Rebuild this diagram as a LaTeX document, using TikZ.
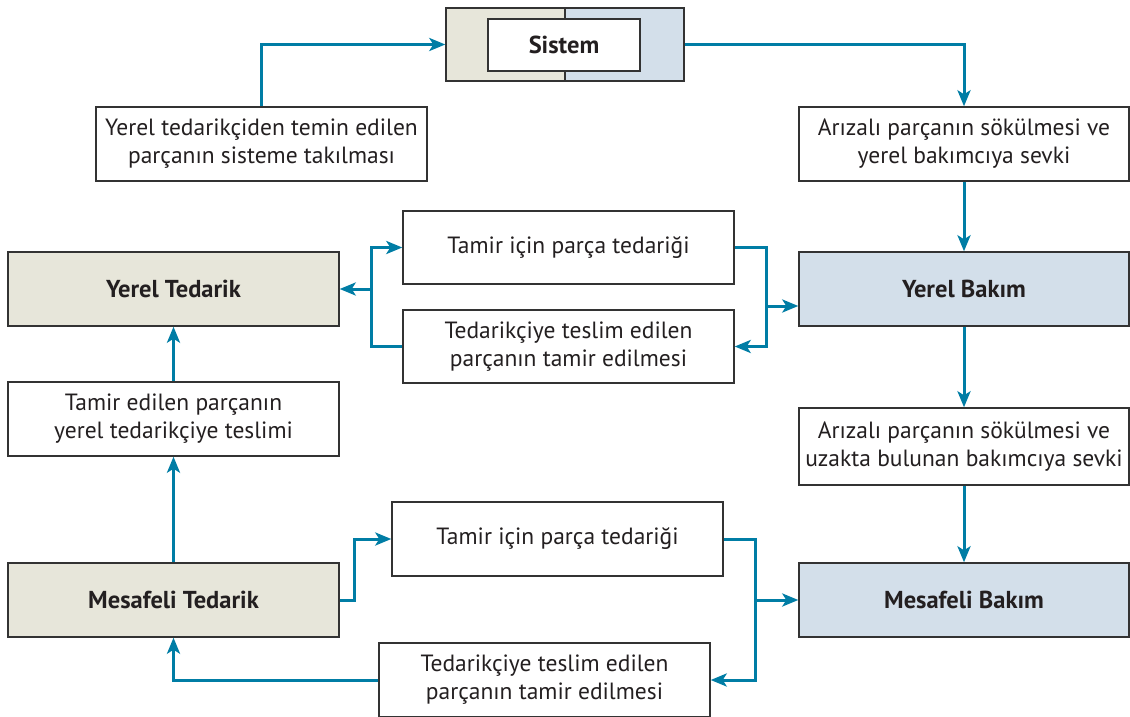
\documentclass[tikz,border=0pt]{standalone}
\usepackage{fontspec}
\setmainfont{PT Sans}
\usetikzlibrary{arrows.meta}
\definecolor{flow}{RGB}{0,125,165}
\definecolor{supply}{RGB}{231,230,218}
\definecolor{maint}{RGB}{211,223,234}
\definecolor{edge}{RGB}{51,51,51}
\definecolor{ink}{RGB}{35,31,32}
\begin{document}
\begin{tikzpicture}[x=1pt,y=-1pt,
  box/.style={draw=edge,line width=1.4pt,fill=white,minimum width=331pt,
    minimum height=74pt,inner sep=0pt,align=center,text=ink,
    font=\fontsize{23.5}{28}\selectfont},
  boldtext/.style={font=\fontsize{24.5}{28}\selectfont\bfseries},
  supplybox/.style={box,fill=supply,boldtext},
  maintbox/.style={box,fill=maint,boldtext},
  flowline/.style={draw=flow,line width=3pt},
  arr/.style={flowline,-{Stealth[length=16pt,width=13pt,inset=4pt]}}]
\useasboundingbox (0,0) rectangle (1130,717);

% system block split into supply and maintenance halves
\node[draw=edge,line width=1.4pt,minimum width=238pt,minimum height=73pt,inner sep=0pt,
  path picture={
    \fill[supply] (path picture bounding box.north west) rectangle (path picture bounding box.south);
    \fill[maint] (path picture bounding box.north) rectangle (path picture bounding box.south east);
    \draw[edge,line width=1.4pt] (path picture bounding box.north) -- (path picture bounding box.south);
  }] (sys) at (565,44.5) {};
\node[box,minimum width=152pt,minimum height=52pt,boldtext] (sysin) at (564,45) {Sistem};

% process boxes
\node[box] (A) at (261.5,144) {Yerel tedarikçiden temin edilen\\parçanın sisteme takılması};
\node[box,minimum width=330pt] (B) at (964,144) {Arızalı parçanın sökülmesi ve\\yerel bakımcıya sevki};
\node[supplybox] (YT) at (173.5,289) {Yerel Tedarik};
\node[box,minimum height=73pt] (T1) at (568.5,247.5) {Tamir için parça tedariği};
\node[box,minimum height=73pt] (D1) at (568.5,346.5) {Tedarikçiye teslim edilen\\parçanın tamir edilmesi};
\node[maintbox,minimum width=330pt] (YB) at (964,289) {Yerel Bakım};
\node[box] (TE) at (173.5,419) {Tamir edilen parçanın\\yerel tedarikçiye teslimi};
\node[box,minimum width=330pt,minimum height=77pt] (U) at (964,446.5) {Arızalı parçanın sökülmesi ve\\uzakta bulunan bakımcıya sevki};
\node[box] (T2) at (557.5,539) {Tamir için parça tedariği};
\node[supplybox] (MT) at (173.5,600) {Mesafeli Tedarik};
\node[maintbox,minimum width=330pt] (MB) at (964,600) {Mesafeli Bakım};
\node[box] (D2) at (544.5,680) {Tedarikçiye teslim edilen\\parçanın tamir edilmesi};

% junction points
\coordinate (rj1) at (766,306);
\coordinate (lj1) at (371,289);
\coordinate (lj2) at (354,539);
\coordinate (rj2) at (755,600);

% connectors
\draw[arr] (A.north) |- (sys.west);
\draw[arr] (sys.east) -| (B.north);
\draw[arr] (B.south) -- (YB.north);
\draw[arr] (T1.east) -| (rj1) |- (D1.east);
\draw[arr] (rj1) -- (rj1 -| YB.west);
\draw[arr] (D1.west) -| (lj1) |- (T1.west);
\draw[arr] (lj1) -- (YT.east);
\draw[arr] (YB.south) -- (U.north);
\draw[arr] (U.south) -- (MB.north);
\draw[arr] (TE.north) -- (YT.south);
\draw[arr] (MT.north) -- (TE.south);
\draw[arr] (MT.east) -| (lj2) -- (T2.west);
\draw[arr] (T2.east) -| (rj2) |- (D2.east);
\draw[arr] (rj2) -- (MB.west);
\draw[arr] (D2.west) -| (MT.south);
\end{tikzpicture}
\end{document}
